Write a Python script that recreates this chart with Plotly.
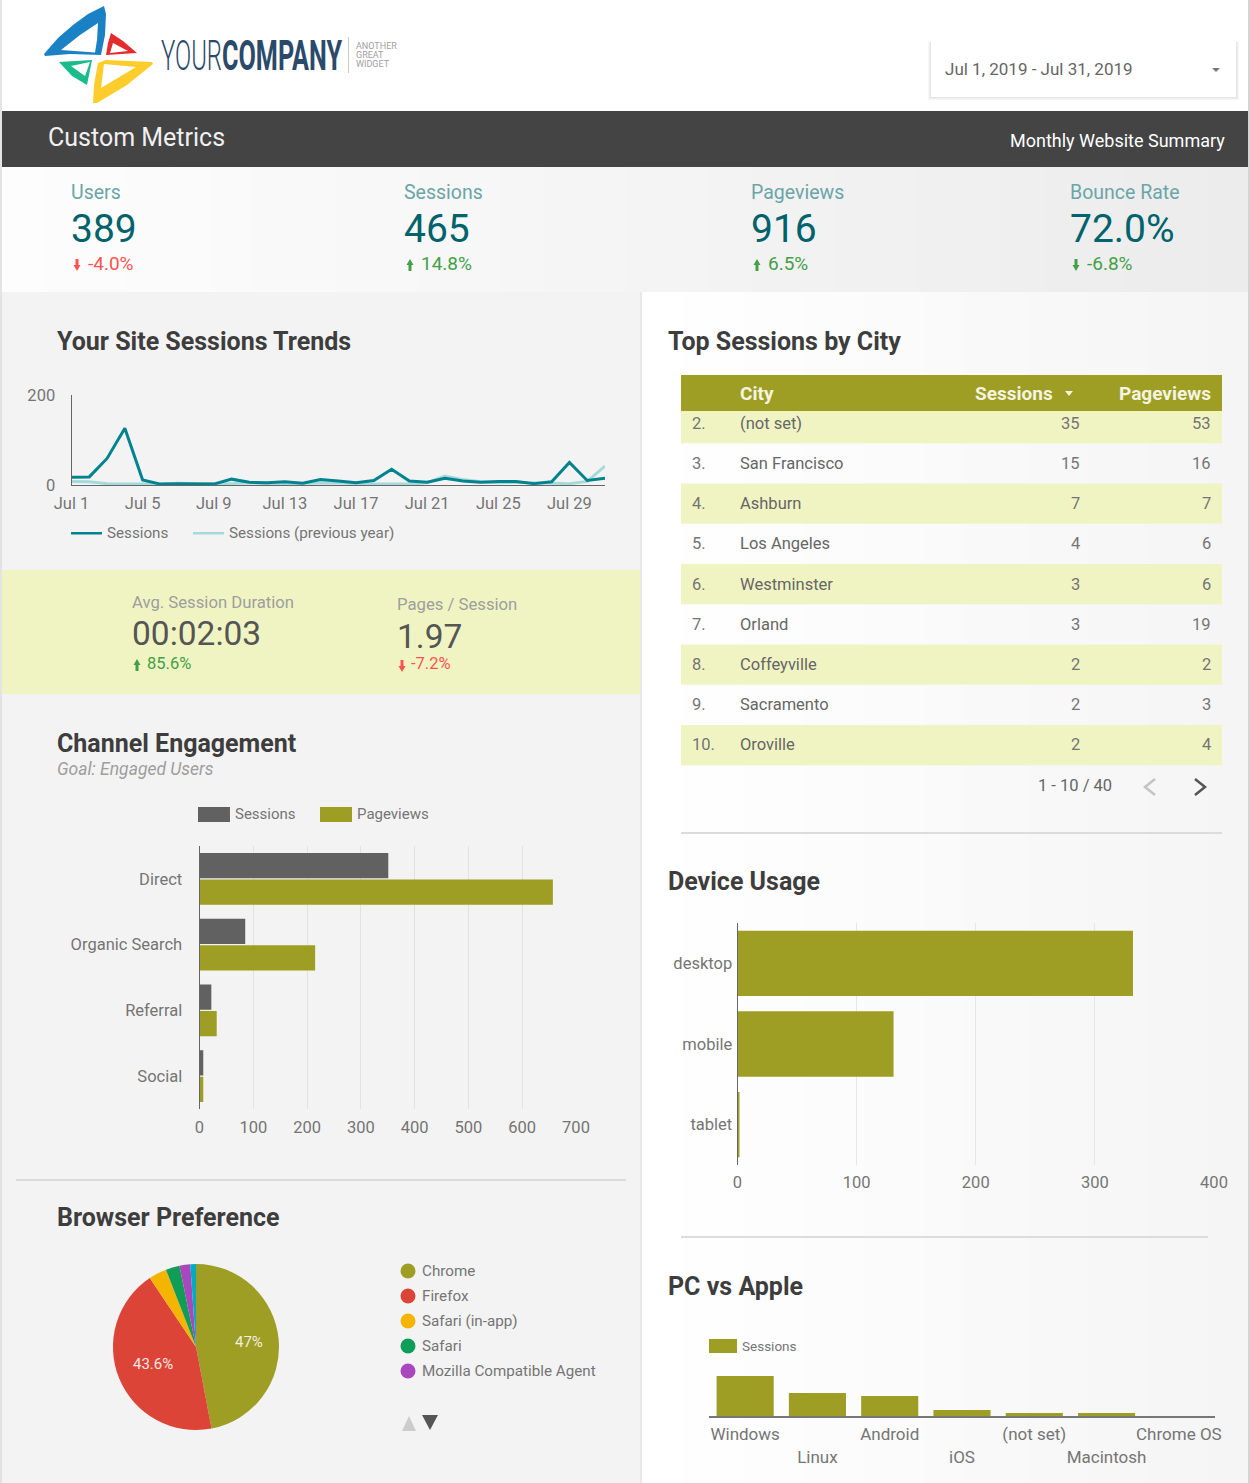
"""Monthly website summary dashboard, drawn as one plotly figure.

Everything that is not a chart (bands, table, score cards) is placed in page pixels.
"""
import plotly.graph_objects as go

WIDTH = 1250
HEIGHT = 1483
OLIVE = '#9e9d24'
LIME = '#f0f4c3'
TEAL = '#00838f'
FONT = 'Roboto'
GREY_TEXT = '#757575'

DAYS = ['Jul ' + str(i) for i in range(1, 32)]
DAY_TICKS = ['Jul 1', 'Jul 5', 'Jul 9', 'Jul 13', 'Jul 17', 'Jul 21', 'Jul 25', 'Jul 29']
SESSIONS_DAILY = [17, 18, 59, 126, 11, 2, 3, 2, 2, 13, 6, 5, 7, 4, 12, 9, 5, 10, 35, 9, 6, 15, 9,
                  6, 8, 8, 3, 7, 50, 10, 15]
SESSIONS_LAST_YEAR = [8, 7, 3, 2, 2, 2, 4, 3, 3, 3, 5, 3, 3, 4, 5, 5, 3, 2, 2, 2, 5, 20, 12, 7, 5,
                      6, 5, 5, 3, 8, 42]

CHANNELS = ['Direct', 'Organic Search', 'Referral', 'Social']
CHANNEL_SESSIONS = [351, 85, 22, 7]
CHANNEL_PAGEVIEWS = [657, 215, 32, 7]

DEVICES = ['desktop', 'mobile', 'tablet']
DEVICE_SESSIONS = [332, 131, 1]

SYSTEMS = ['Windows', '<br>Linux', 'Android', '<br>iOS', '(not set)', '<br>Macintosh', 'Chrome OS']
SYSTEM_SESSIONS = [200, 115, 100, 30, 15, 15, 0]

BROWSERS = ['Chrome', 'Firefox', 'Safari (in-app)', 'Safari', 'Mozilla Compatible Agent', 'Other']
BROWSER_SHARE = [47, 43.6, 3.5, 2.7, 2.1, 1.1]
BROWSER_COLOURS = [OLIVE, '#db4437', '#f4b400', '#0f9d58', '#ab47bc', '#00acc1']

RANKS = ['2.', '3.', '4.', '5.', '6.', '7.', '8.', '9.', '10.']
CITIES = ['(not set)', 'San Francisco', 'Ashburn', 'Los Angeles', 'Westminster', 'Orland',
          'Coffeyville', 'Sacramento', 'Oroville']
CITY_SESSIONS = [35, 15, 7, 4, 3, 3, 2, 2, 2]
CITY_PAGEVIEWS = [53, 16, 7, 6, 6, 19, 2, 3, 4]

KPI_NAMES = ['Users', 'Sessions', 'Pageviews', 'Bounce Rate']
KPI_VALUES = ['389', '465', '916', '72.0%']
KPI_DELTAS = ['-4.0%', '14.8%', '6.5%', '-6.8%']

# the wordmark is a very narrow face, so its real text is squeezed once it is on the page
SQUEEZE = """
document.body.style.margin = '0';
var logoWidths = {'YOUR': 61, 'COMPANY': 120};
document.querySelectorAll('.annotation-text').forEach(function (t) {
    var target = logoWidths[t.textContent];
    if (target) {
        t.style.transformBox = 'fill-box';
        t.style.transformOrigin = 'left center';
        t.style.transform = 'scaleX(' + target / t.getBBox().width + ')';
    }
});
"""


def px(x: float) -> float:
    """page pixel to paper x"""
    return x / WIDTH


def py(y: float) -> float:
    """page pixel to paper y"""
    return 1 - y / HEIGHT


def dom_x(left: float, right: float) -> list[float]:
    """axis domain from two page pixels"""
    return [px(left), px(right)]


def dom_y(top: float, bottom: float) -> list[float]:
    """axis domain from two page pixels"""
    return [py(bottom), py(top)]


def rect(fig: go.Figure, x0: float, y0: float, x1: float, y1: float, colour: str) -> None:
    """add a filled rectangle in page pixels"""
    fig.add_shape(type='rect', xref='paper', yref='paper', x0=px(x0), x1=px(x1), y0=py(y0),
                  y1=py(y1), fillcolor=colour, line_width=0, layer='below')


def polygon(fig: go.Figure, points: list[tuple[float, float]], colour: str) -> None:
    """add a filled polygon in page pixels"""
    path = 'M' + ' L'.join(f'{px(a):.5f},{py(b):.5f}' for a, b in points) + ' Z'
    fig.add_shape(type='path', xref='paper', yref='paper', path=path, fillcolor=colour,
                  line_width=0, layer='below')


def text(fig: go.Figure, label: str, x: float, y: float, size: float, colour: str,
         anchor: str = 'left', weight: int = 400) -> None:
    """add a text at a page pixel, vertically centred"""
    nudge = {'left': -1, 'right': 1, 'center': 0}[anchor]  # annotations sit 1px inside
    fig.add_annotation(text=label, x=px(x + nudge), y=py(y), xref='paper', yref='paper',
                       xanchor=anchor, yanchor='middle', showarrow=False, borderpad=0,
                       font=dict(family=FONT, size=size, color=colour, weight=weight))


def arrow(fig: go.Figure, x: float, y: float, up: bool, colour: str) -> None:
    """small trend arrow next to a delta"""
    sign = -1 if up else 1
    polygon(fig, [(x - 1.5, y - sign * 6), (x + 1.5, y - sign * 6), (x + 1.5, y),
                  (x + 3.5, y), (x, y + sign * 6), (x - 3.5, y), (x - 1.5, y)], colour)


def draw_gradient(fig: go.Figure, x0: float, x1: float, y0: float, y1: float,
                  start: int, end: int) -> None:
    """band that goes from one grey level to another, in strips"""
    steps = 30
    for i in range(steps):
        level = round(start + (end - start) * i / (steps - 1))
        rect(fig, x0 + (x1 - x0) * i / steps, y0, x0 + (x1 - x0) * (i + 1) / steps + 1, y1,
             f'rgb({level},{level},{level})')


def draw_logo(fig: go.Figure) -> None:
    """the four coloured blades and the company name"""
    polygon(fig, [(104, 6), (88, 14), (73, 25), (58, 38), (44, 54), (45, 56), (70, 54), (101, 55),
                  (105, 35), (106, 14)], '#1a82c4')
    polygon(fig, [(98, 23), (80, 35), (61, 50), (95, 52.5), (97, 40)], 'white')
    polygon(fig, [(111, 33), (123, 41), (137, 53), (106, 55), (108, 43)], '#e42c2f')
    polygon(fig, [(113, 43), (128, 51), (110, 53)], 'white')
    polygon(fig, [(59, 62), (92, 60), (87, 85), (72, 76)], '#1abc8c')
    polygon(fig, [(71, 66), (90, 62), (85, 76)], 'white')
    polygon(fig, [(152, 62), (130, 61), (106, 60), (98, 63), (94, 85), (93, 103), (97, 103),
                  (127, 85), (153, 64)], '#fdcd2b')
    polygon(fig, [(136, 67), (104, 64), (101, 88)], 'white')
    text(fig, 'YOUR', 161, 55, 42, '#2b4a6b', weight=300)
    text(fig, 'COMPANY', 222, 55, 42, '#2b4a6b', weight=700)
    rect(fig, 348, 37, 349, 73, '#cccccc')
    for label, y in zip(['ANOTHER', 'GREAT', 'WIDGET'], [46, 55, 64]):
        text(fig, label, 356, y, 9, '#a0a0a0')


def draw_page(fig: go.Figure) -> None:
    """panels, header and separators"""
    rect(fig, 2, 111, WIDTH, 167, '#444444')
    draw_gradient(fig, 2, WIDTH, 167, 292, 253, 236)
    rect(fig, 2, 292, 640, HEIGHT, '#f3f3f3')
    draw_gradient(fig, 641, WIDTH, 292, HEIGHT, 255, 245)
    rect(fig, 640, 292, 642, HEIGHT, '#e8e8e8')
    rect(fig, 0, 0, 2, HEIGHT, '#e4e4e4')
    rect(fig, 1248, 0, WIDTH, HEIGHT, '#d4d4d4')
    rect(fig, 2, 570, 640, 694, LIME)
    rect(fig, 16, 1179, 626, 1181, '#dcdcdc')
    rect(fig, 681, 832, 1222, 834, '#dcdcdc')
    rect(fig, 681, 1236, 1208, 1238, '#dcdcdc')
    text(fig, 'Custom Metrics', 48, 137, 25, '#f0f0f0')
    text(fig, 'Monthly Website Summary', 1225, 141, 18, '#ffffff', anchor='right')

    # date picker with a soft shadow
    for grow, grey in zip([3, 2, 1], ['#f6f6f6', '#eeeeee', '#e4e4e4']):
        rect(fig, 931 - grow, 42, 1236 + grow, 97 + grow, grey)
    rect(fig, 931, 42, 1236, 97, '#ffffff')
    text(fig, 'Jul 1, 2019 - Jul 31, 2019', 945, 69, 17, '#666666')
    polygon(fig, [(1212, 68), (1220, 68), (1216, 72)], '#777777')


def draw_scores(fig: go.Figure) -> None:
    """score cards under the header and on the lime band"""
    for name, value, delta, x in zip(KPI_NAMES, KPI_VALUES, KPI_DELTAS, [71, 404, 751, 1070]):
        rising = name in ('Sessions', 'Pageviews')
        colour = '#43a047' if rising or name == 'Bounce Rate' else '#ff5252'
        text(fig, name, x, 192, 19.5, '#6ba5a8')
        text(fig, value, x, 229, 39, '#00626b')
        arrow(fig, x + 6, 265, rising, colour)
        text(fig, delta, x + 17, 263, 19, colour)

    text(fig, 'Avg. Session Duration', 132, 603, 16.7, '#9e9e9e')
    text(fig, '00:02:03', 132, 634, 33.5, '#555555')
    arrow(fig, 137, 665, True, '#43a047')
    text(fig, '85.6%', 147, 663, 16.5, '#43a047')
    text(fig, 'Pages / Session', 397, 604, 16.7, '#9e9e9e')
    text(fig, '1.97', 397, 636, 33.5, '#555555')
    arrow(fig, 402, 666, False, '#ff5252')
    text(fig, '-7.2%', 411, 664, 16.5, '#ff5252')


def draw_titles(fig: go.Figure) -> None:
    """section titles"""
    for label, x, y in [('Your Site Sessions Trends', 57, 341.5), ('Channel Engagement', 57, 743),
                        ('Browser Preference', 57, 1217), ('Top Sessions by City', 668, 341.5),
                        ('Device Usage', 668, 882), ('PC vs Apple', 668, 1286)]:
        text(fig, label, x, y, 25, '#3d3d3d', weight=700)
    text(fig, '<i>Goal: Engaged Users</i>', 57, 769, 17.5, '#9e9e9e')


def draw_trend(fig: go.Figure) -> None:
    """daily sessions line chart"""
    fig.add_trace(go.Scatter(x=DAYS, y=SESSIONS_LAST_YEAR, mode='lines', xaxis='x', yaxis='y',
                             line=dict(color='#a5dada', width=3), cliponaxis=False))
    fig.add_trace(go.Scatter(x=DAYS, y=SESSIONS_DAILY, mode='lines', xaxis='x', yaxis='y',
                             line=dict(color=TEAL, width=3), cliponaxis=False))
    fig.update_layout(
        xaxis=dict(domain=dom_x(71.5, 605), anchor='y', type='category', range=[0, 30],
                   tickvals=DAY_TICKS, showgrid=False, showline=True, linecolor='#666666',
                   ticks='outside', ticklen=3, tickcolor='rgba(0,0,0,0)', automargin=False,
                   tickfont=dict(size=16.5, color=GREY_TEXT)),
        yaxis=dict(domain=dom_y(395, 485), anchor='x', range=[0, 200], tickvals=[0, 200],
                   showgrid=False, zeroline=False, showline=True, linecolor='#666666',
                   ticks='outside', ticklen=12, tickcolor='rgba(0,0,0,0)', automargin=False,
                   tickfont=dict(size=16.5, color=GREY_TEXT)))
    rect(fig, 71, 532, 102, 534.5, TEAL)
    text(fig, 'Sessions', 107, 533, 15.2, GREY_TEXT)
    rect(fig, 193, 532, 224, 534.5, '#a5dada')
    text(fig, 'Sessions (previous year)', 229, 533, 15.2, GREY_TEXT)


def draw_channels(fig: go.Figure) -> None:
    """grouped horizontal bars per channel"""
    fig.add_trace(go.Bar(y=CHANNELS, x=CHANNEL_SESSIONS, orientation='h', xaxis='x2', yaxis='y2',
                         marker=dict(color='#616161', line_width=0)))
    fig.add_trace(go.Bar(y=CHANNELS, x=CHANNEL_PAGEVIEWS, orientation='h', xaxis='x2', yaxis='y2',
                         marker=dict(color=OLIVE, line_width=0)))
    fig.update_layout(
        xaxis2=dict(domain=dom_x(199.5, 576), anchor='y2', range=[0, 700], dtick=100,
                    gridcolor='#e2e2e2', zeroline=False, ticks='outside', ticklen=3,
                    tickcolor='rgba(0,0,0,0)', automargin=False,
                    tickfont=dict(size=16.5, color=GREY_TEXT)),
        yaxis2=dict(domain=dom_y(846, 1109), anchor='x2', autorange='reversed', showline=True,
                    linecolor='#666666', ticks='outside', ticklen=13, automargin=False,
                    tickcolor='rgba(0,0,0,0)', tickfont=dict(size=16.5, color=GREY_TEXT)))
    rect(fig, 198, 807, 230, 822, '#616161')
    text(fig, 'Sessions', 235, 814, 15, GREY_TEXT)
    rect(fig, 320, 807, 352, 822, OLIVE)
    text(fig, 'Pageviews', 357, 814, 15, GREY_TEXT)


def draw_devices(fig: go.Figure) -> None:
    """sessions per device"""
    fig.add_trace(go.Bar(y=DEVICES, x=DEVICE_SESSIONS, orientation='h', xaxis='x3', yaxis='y3',
                         marker=dict(color=OLIVE, line_width=0), width=0.81))
    fig.update_layout(
        xaxis3=dict(domain=dom_x(737.5, 1214), anchor='y3', range=[0, 400], dtick=100,
                    gridcolor='#e6e6e6', zeroline=False, ticks='outside', ticklen=2,
                    tickcolor='rgba(0,0,0,0)', automargin=False,
                    tickfont=dict(size=16.5, color=GREY_TEXT)),
        yaxis3=dict(domain=dom_y(923, 1165), anchor='x3', autorange='reversed', showline=True,
                    linecolor='#666666', ticks='outside', ticklen=1, automargin=False,
                    tickcolor='rgba(0,0,0,0)', tickfont=dict(size=16.5, color=GREY_TEXT)))


def draw_systems(fig: go.Figure) -> None:
    """sessions per operating system"""
    fig.add_trace(go.Bar(x=SYSTEMS, y=SYSTEM_SESSIONS, xaxis='x4', yaxis='y4',
                         marker=dict(color=OLIVE, line_width=0), width=0.79))
    fig.update_layout(
        xaxis4=dict(domain=dom_x(709, 1215), anchor='y4', showline=True, linecolor='#777777',
                    linewidth=2, tickangle=0, ticks='outside', ticklen=2, automargin=False,
                    tickcolor='rgba(0,0,0,0)', tickfont=dict(size=17, color=GREY_TEXT)),
        yaxis4=dict(domain=dom_y(1376, 1416), anchor='x4', range=[0, 200], tickvals=[0, 200],
                    showticklabels=False, gridcolor='#eeeeee', zeroline=False, automargin=False))
    rect(fig, 709, 1339, 737, 1353, OLIVE)
    text(fig, 'Sessions', 742, 1346, 13.5, GREY_TEXT)


def draw_browsers(fig: go.Figure) -> None:
    """browser share pie with its legend"""
    fig.add_trace(go.Pie(labels=BROWSERS, values=BROWSER_SHARE, textinfo='none', sort=False,
                         direction='clockwise', rotation=0,
                         marker=dict(colors=BROWSER_COLOURS, line_width=0),
                         domain=dict(x=dom_x(113, 279), y=dom_y(1264, 1430))))
    text(fig, f'{BROWSER_SHARE[0]}%', 249, 1342, 15, '#f0f0e0', anchor='center')
    text(fig, f'{BROWSER_SHARE[1]}%', 153, 1364, 15, '#f8e8e4', anchor='center')
    for i in range(5):
        y = 1271 + i * 25
        fig.add_shape(type='circle', xref='paper', yref='paper', x0=px(400.5), x1=px(415.5),
                      y0=py(y - 7.5), y1=py(y + 7.5), fillcolor=BROWSER_COLOURS[i], line_width=0)
        text(fig, BROWSERS[i], 422, y, 15.2, GREY_TEXT)
    polygon(fig, [(409, 1416), (402, 1431), (416, 1431)], '#cccccc')
    polygon(fig, [(422, 1415), (438, 1415), (430, 1430)], '#555555')


def draw_table(fig: go.Figure) -> None:
    """top cities table, first row cut off by the header as in the scrolled table"""
    rect(fig, 681, 375, 1222, 411, OLIVE)
    text(fig, 'City', 740, 393, 19, '#f4f4e0', weight=700)
    text(fig, 'Sessions', 1053, 393, 19, '#f4f4e0', anchor='right', weight=700)
    polygon(fig, [(1065, 391), (1073, 391), (1069, 396)], '#f4f4e0')
    text(fig, 'Pageviews', 1211, 393, 19, '#f4f4e0', anchor='right', weight=700)
    for i, (rank, city) in enumerate(zip(RANKS, CITIES)):
        top = 403 + 40.25 * i
        if i % 2 == 0:
            rect(fig, 681, max(top, 411), 1222, top + 40.25, LIME)
        y = 423 if i == 0 else top + 20
        text(fig, rank, 692, y, 16.5, GREY_TEXT)
        text(fig, city, 740, y, 16.5, '#666666')
        text(fig, str(CITY_SESSIONS[i]), 1080, y, 16.5, GREY_TEXT, anchor='right')
        text(fig, str(CITY_PAGEVIEWS[i]), 1211, y, 16.5, GREY_TEXT, anchor='right')
    text(fig, '1 - 10 / 40', 1075, 785, 16.5, '#666666', anchor='center')
    for x, colour in [(1150, '#c4c4c4'), (1200, '#555555')]:
        step = -5 if x == 1150 else 5
        fig.add_shape(type='path', xref='paper', yref='paper', line=dict(color=colour, width=2.5),
                      path=f'M{px(x - step):.5f},{py(779):.5f} L{px(x + step):.5f},{py(787):.5f} '
                           f'L{px(x - step):.5f},{py(795):.5f}')


def main() -> None:
    """build the whole page and write it out"""
    fig = go.Figure()
    draw_page(fig)
    draw_logo(fig)
    draw_scores(fig)
    draw_titles(fig)
    draw_trend(fig)
    draw_channels(fig)
    draw_devices(fig)
    draw_systems(fig)
    draw_browsers(fig)
    draw_table(fig)
    fig.update_layout(width=WIDTH, height=HEIGHT, margin=dict(l=0, r=0, t=0, b=0),
                      paper_bgcolor='white', plot_bgcolor='rgba(0,0,0,0)', showlegend=False,
                      font=dict(family=FONT), barmode='group', bargap=0.2, bargroupgap=0.04)
    fig.write_html('out.html', config={'displayModeBar': False}, post_script=SQUEEZE)


if __name__ == '__main__':
    main()
